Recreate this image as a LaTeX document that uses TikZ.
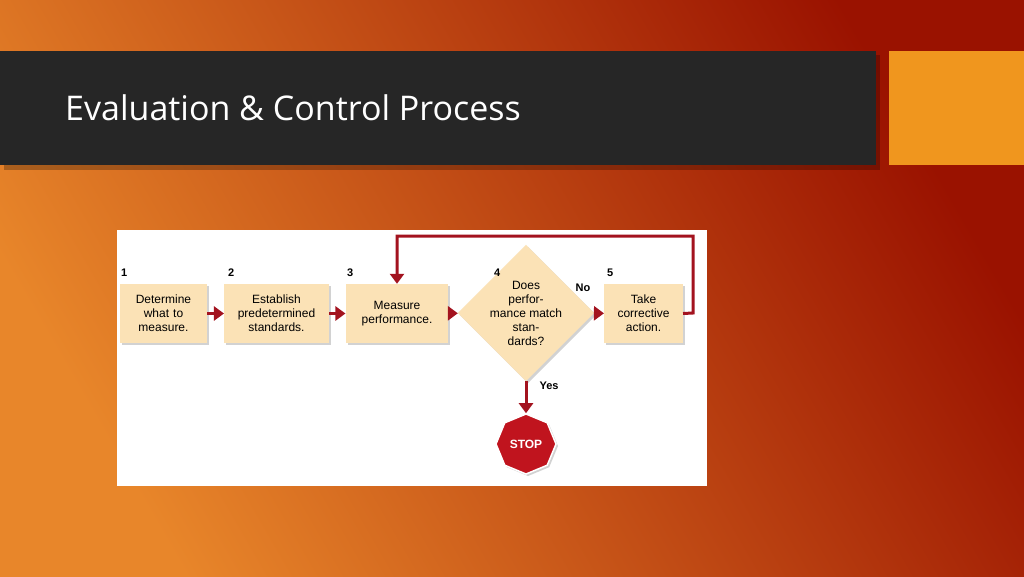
\documentclass[tikz,border=0pt]{standalone}
\usepackage{fontspec}
\setmainfont{Liberation Sans}
\newfontfamily\titlefont{Open Sans}
\usetikzlibrary{shapes.geometric,arrows.meta,shadows}
\definecolor{bgA}{HTML}{E8862A}
\definecolor{bgB}{HTML}{9A1200}
\definecolor{band}{HTML}{262626}
\definecolor{accent}{HTML}{F0961E}
\definecolor{boxfill}{HTML}{FBE2B6}
\definecolor{flow}{HTML}{A3131F}
\definecolor{stopred}{HTML}{C0141E}
\tikzstyle{stepbox} = [rectangle, minimum width=85pt, minimum height=59pt, text width=80pt, align=center, fill=boxfill, font=\fontsize{12}{14}\selectfont, drop shadow={shadow xshift=2pt, shadow yshift=-2pt, opacity=0.35}]
\tikzstyle{num} = [font=\bfseries\fontsize{11}{12}\selectfont, inner sep=0pt]
\tikzstyle{link} = [draw=flow, line width=3pt, -{Triangle[length=10pt,width=14pt]}]
\begin{document}
\begin{tikzpicture}[x=1pt,y=-1pt]
        \useasboundingbox (0,0) rectangle (1024,576);
        \shade[left color=bgA, right color=bgB, shading angle=120] (0,0) rectangle (1024,576);
        \fill[black, opacity=0.25] (4,55) rectangle (880,170);
        \fill[band] (0,51) rectangle (876,165);
        \fill[accent] (889,51) rectangle (1024,165);
        \node[anchor=base west, text=white, font=\titlefont\fontsize{34}{40}\selectfont, inner sep=0pt] (title) at (65,120) {Evaluation \& Control Process};
        \fill[white] (117,230) rectangle (707,486);
        \node[stepbox, minimum width=85pt, text width=80pt] (s1) at (163.5,313.5) {Determine\\what to\\measure.};
        \node[stepbox, minimum width=101pt, text width=98pt] (s2) at (276.5,313.5) {Establish\\predetermined\\standards.};
        \node[stepbox, minimum width=100pt, text width=96pt] (s3) at (397,313.5) {Measure\\performance.};
        \node[diamond, fill=boxfill, minimum width=110pt, minimum height=114pt, inner sep=0pt, align=center, font=\fontsize{12}{14}\selectfont, drop shadow={shadow xshift=2pt, shadow yshift=-2pt, opacity=0.35}] (s4) at (526,313) {Does\\perfor-\\mance match\\stan-\\dards?};
        \node[stepbox, minimum width=75pt, text width=72pt] (s5) at (643.5,313.5) {Take\\corrective\\action.};
        \node[regular polygon, regular polygon sides=8, shape border rotate=22.5, minimum size=60pt, fill=stopred, draw=white, line width=1.5pt, text=white, font=\bfseries\fontsize{12}{14}\selectfont, drop shadow={shadow xshift=2pt, shadow yshift=-2pt, opacity=0.35}] (stop) at (526,444) {STOP};
        \node[num, anchor=south west] (n1) at (121,277) {1};
        \node[num, anchor=south west] (n2) at (228,277) {2};
        \node[num, anchor=south west] (n3) at (347,277) {3};
        \node[num, anchor=south west] (n4) at (494,277) {4};
        \node[num, anchor=south west] (n5) at (607,277) {5};
        \node[num] (no) at (583,288) {No};
        \node[num] (yes) at (549,386) {Yes};
        \coordinate (fbA) at (693,313);
        \coordinate (fbB) at (693,236);
        \coordinate (fbC) at (397,236);
        \draw[link] (s1) -- (s2);
        \draw[link] (s2) -- (s3);
        \draw[link] (s3) -- (s4);
        \draw[link] (s4) -- (s5);
        \draw[link] (s4) -- (stop);
        \draw[link] (s5.east) -- (fbA) -- (fbB) -- (fbC) -- (s3.north);
\end{tikzpicture}
\end{document}
